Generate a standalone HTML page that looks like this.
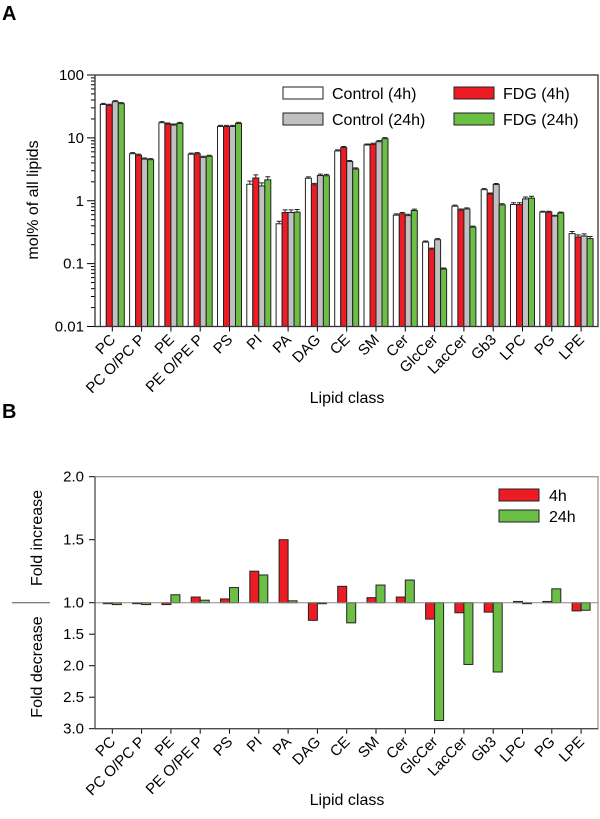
<!DOCTYPE html>
<html><head><meta charset="utf-8"><style>
body{margin:0;background:#fff}
svg{display:block;font-family:"Liberation Sans",Arial,sans-serif}
</style></head><body>
<svg id="c" width="600" height="819" viewBox="0 0 600 819" xmlns="http://www.w3.org/2000/svg">
<text x="2" y="20" font-size="20" font-weight="bold">A</text>
<text x="2" y="418" font-size="20" font-weight="bold">B</text>
<g id="ga"></g><g id="gb"></g>
</svg>
<script>
const categories=["PC","PC O/PC P","PE","PE O/PE P","PS","PI","PA","DAG","CE","SM","Cer","GlcCer","LacCer","Gb3","LPC","PG","LPE"];
const ctrl4=[34,5.6,17.4,5.5,15.2,1.83,0.43,2.28,6.2,7.7,0.59,0.22,0.82,1.5,0.87,0.66,0.30];
const fdg4=[33,5.3,16.6,5.6,15.2,2.3,0.65,1.8,7.0,7.9,0.62,0.17,0.71,1.28,0.87,0.66,0.265];
const ctrl24=[37.6,4.6,16,4.9,15.2,1.72,0.65,2.52,4.2,8.7,0.58,0.24,0.74,1.81,1.07,0.57,0.275];
const fdg24=[35,4.5,17,5.1,17,2.15,0.66,2.5,3.2,9.7,0.70,0.082,0.38,0.86,1.1,0.64,0.25];
const errA=[0.04,0.04,0.04,0.04,0.04,0.12,0.1,0.05,0.04,0.04,0.05,0.04,0.04,0.04,0.07,0.03,0.08];
const yTicksA=[0.01,0.1,1,10,100];
const yTickLabelsA=["0.01","0.1","1","10","100"];
const fold4=[-1.01,-1.01,-1.03,1.045,1.03,1.25,1.50,-1.28,1.13,1.04,1.045,-1.26,-1.16,-1.15,1.01,1.01,-1.13];
const fold24=[-1.03,-1.03,1.063,1.02,1.12,1.22,1.015,-1.003,-1.32,1.14,1.18,-2.87,-1.98,-2.10,1.0,1.11,-1.12];
const yTicksB=[2.0,1.5,1.0,-1.5,-2.0,-2.5,-3.0];
const yTickLabelsB=["2.0","1.5","1.0","1.5","2.0","2.5","3.0"];

const NS="http://www.w3.org/2000/svg";
function el(p,t,a,txt){const e=document.createElementNS(NS,t);for(const k in a)e.setAttribute(k,a[k]);if(txt!==undefined)e.textContent=txt;p.appendChild(e);return e;}
const xC=i=>112.3+29.3*i;
const FS=15, TS=16;
// Panel A
const ga=document.getElementById('ga');
const A={l:95,r:598,t:75,b:326.5};
const yA=v=>A.t+(2-Math.log10(v))*(A.b-A.t)/4;
for(let d=-2;d<2;d++)for(let m=2;m<10;m++){const y=yA(m*Math.pow(10,d));const t=el(ga,'line',{x1:A.l-4,x2:A.l,y1:y,y2:y,stroke:'#000','stroke-width':1});}
yTicksA.forEach((v,i)=>{const y=yA(v);const t=el(ga,'line',{x1:A.l-8,x2:A.l,y1:y,y2:y,stroke:'#000'});
const lb=el(ga,'text',{x:A.l-11,y:y+5,'font-size':FS,'text-anchor':'end'},yTickLabelsA[i]);});
const series=[[ctrl4,'#fff'],[fdg4,'#ed1c24'],[ctrl24,'#c0c0c0'],[fdg24,'#6cbf45']];
const sNames=['control-4h','fdg-4h','control-24h','fdg-24h'];
categories.forEach((c,i)=>{series.forEach((s,j)=>{const v=s[0][i];const x=xC(i)-12+6*j;const y=yA(v);
const r=el(ga,'rect',{x:x,y:y,width:6,height:A.b-y,fill:s[1],stroke:'#222','stroke-width':1});
const ye=yA(v*(1+errA[i]));const eb=el(ga,'path',{d:`M${x+3} ${y}V${ye}M${x+0.5} ${ye}H${x+5.5}`,stroke:'#222',fill:'none'});});
const t=el(ga,'line',{x1:xC(i),x2:xC(i),y1:A.b,y2:A.b+5,stroke:'#000'});
const lb=el(ga,'text',{x:xC(i)+4,y:A.b+14,'font-size':FS,'text-anchor':'end',transform:`rotate(-45 ${xC(i)+4} ${A.b+14})`},c);});
let fr=el(ga,'rect',{x:A.l,y:A.t,width:A.r-A.l,height:A.b-A.t,fill:'none',stroke:'#333','stroke-width':1.3});
let tt=el(ga,'text',{x:0,y:0,'font-size':TS,'text-anchor':'middle',transform:'translate(38 200) rotate(-90)'},'mol% of all lipids');
tt=el(ga,'text',{x:347,y:403,'font-size':TS,'text-anchor':'middle'},'Lipid class');
const legA=[[283,87,'#fff','Control (4h)'],[454,87,'#ed1c24','FDG (4h)'],[283,113,'#c0c0c0','Control (24h)'],[454,113,'#6cbf45','FDG (24h)']];
legA.forEach(l=>{const g=el(ga,'g',{});
el(g,'rect',{x:l[0],y:l[1],width:40,height:12,fill:l[2],stroke:'#222'});el(g,'text',{x:l[0]+49,y:l[1]+12,'font-size':TS},l[3]);});
// Panel B
const gb=document.getElementById('gb');
const B={l:95,r:598,t:476.7,z:602.7,b:728.7};
const yB=v=>v>=1?B.z-(v-1)*126:B.z+(-v-1)*63;
yTicksB.forEach((v,i)=>{const y=yB(v);const t=el(gb,'line',{x1:B.l-6,x2:B.l,y1:y,y2:y,stroke:'#000'});
const lb=el(gb,'text',{x:B.l-11,y:y+5,'font-size':FS,'text-anchor':'end'},yTickLabelsB[i]);});
categories.forEach((c,i)=>{[[fold4,'#ed1c24','bar-4h',-9],[fold24,'#6cbf45','bar-24h',0]].forEach(s=>{const v=s[0][i];const y=yB(v);const x=xC(i)+s[3];
const r=el(gb,'rect',{x:x,y:Math.min(y,B.z),width:9,height:Math.max(Math.abs(y-B.z),1),fill:s[1],stroke:'#222','stroke-width':1});});
const t=el(gb,'line',{x1:xC(i),x2:xC(i),y1:B.b,y2:B.b+5,stroke:'#000'});
const lb=el(gb,'text',{x:xC(i)+4,y:B.b+14,'font-size':FS,'text-anchor':'end',transform:`rotate(-45 ${xC(i)+4} ${B.b+14})`},c);});
let zl=el(gb,'line',{x1:B.l,x2:B.r,y1:B.z,y2:B.z,stroke:'#888'});
zl=el(gb,'line',{x1:12,x2:50,y1:B.z,y2:B.z,stroke:'#555'});
fr=el(gb,'path',{d:`M${B.l} ${B.t}H${B.r}V${B.b}H${B.l}Z`,fill:'none',stroke:'#999','stroke-width':1.3});
el(gb,'line',{x1:B.l,x2:B.l,y1:B.t,y2:B.b,stroke:'#333'});el(gb,'line',{x1:B.l,x2:B.r,y1:B.b,y2:B.b,stroke:'#333'});
tt=el(gb,'text',{x:0,y:0,'font-size':TS,'text-anchor':'middle',transform:'translate(42 538) rotate(-90)'},'Fold increase');
tt=el(gb,'text',{x:0,y:0,'font-size':TS,'text-anchor':'middle',transform:'translate(42 667) rotate(-90)'},'Fold decrease');
tt=el(gb,'text',{x:347,y:805,'font-size':TS,'text-anchor':'middle'},'Lipid class');
[[489,'#ed1c24','4h'],[510,'#6cbf45','24h']].forEach(l=>{const g=el(gb,'g',{});
el(g,'rect',{x:499,y:l[0],width:40,height:12,fill:l[1],stroke:'#222'});el(g,'text',{x:549,y:l[0]+12,'font-size':TS},l[2]);});
</script>
</body></html>
